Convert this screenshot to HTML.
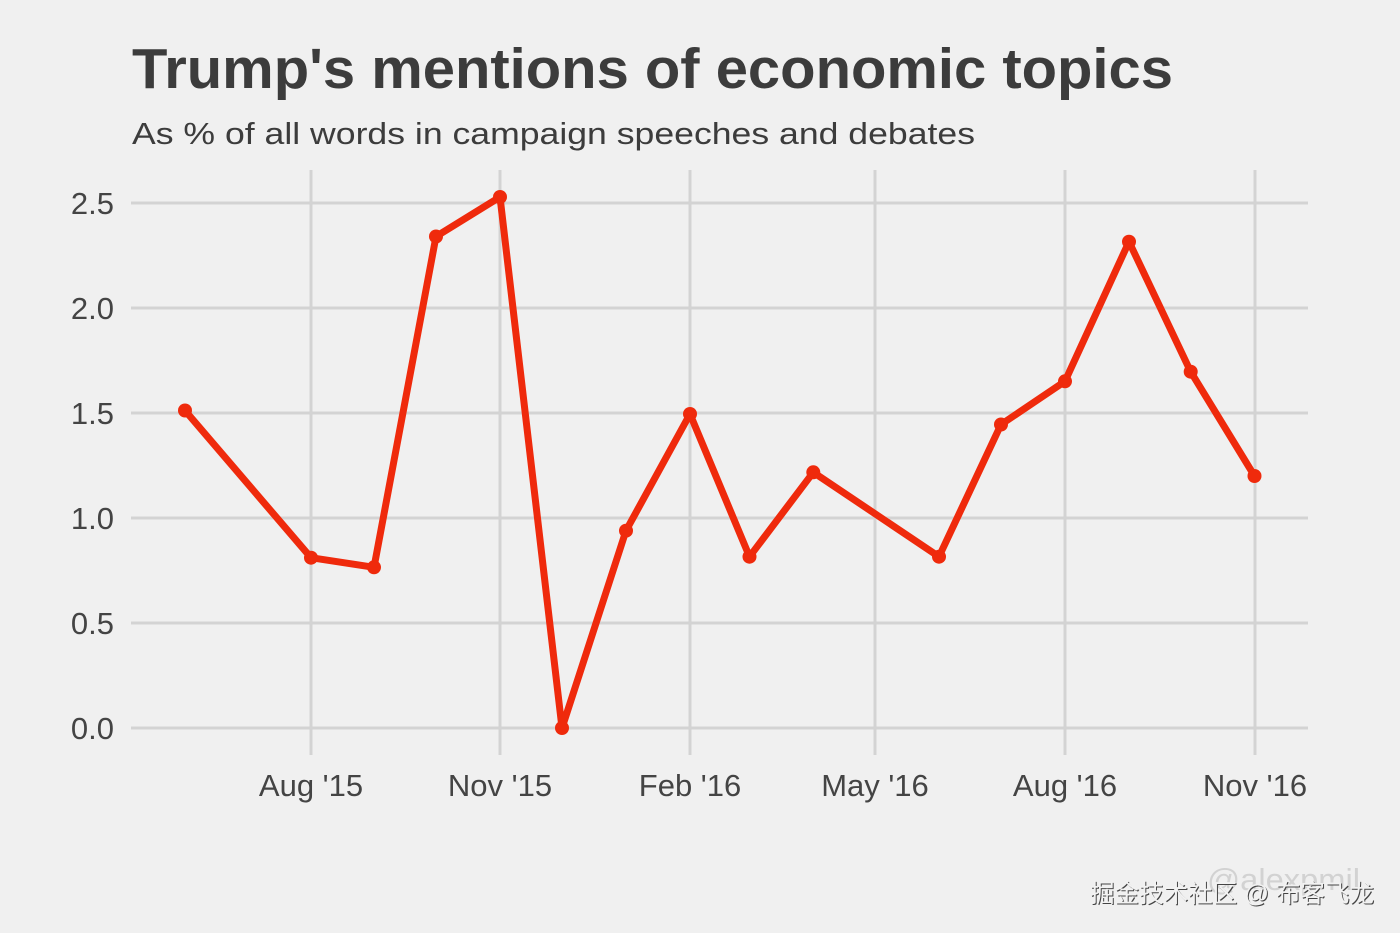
<!DOCTYPE html>
<html>
<head>
<meta charset="utf-8">
<style>
  html, body { margin: 0; padding: 0; background: #f0f0f0; }
  body { width: 1400px; height: 933px; overflow: hidden; }
  svg { display: block; }
  text { font-family: "Liberation Sans", Arial, sans-serif; }
</style>
</head>
<body>
<svg width="1400" height="933" viewBox="0 0 1400 933" xmlns="http://www.w3.org/2000/svg">
  <rect x="0" y="0" width="1400" height="933" fill="#f0f0f0"/>

  <!-- Title -->
  <text x="132" y="88" font-size="57" font-weight="bold" fill="#3c3c3c" textLength="1041" lengthAdjust="spacingAndGlyphs">Trump's mentions of economic topics</text>
  <text x="132" y="144" font-size="31" fill="#3c3c3c" textLength="843" lengthAdjust="spacingAndGlyphs">As % of all words in campaign speeches and debates</text>

  <!-- horizontal grid -->
  <g stroke="#d3d3d3" stroke-width="3">
    <line x1="131" y1="203" x2="1308" y2="203"/>
    <line x1="131" y1="308" x2="1308" y2="308"/>
    <line x1="131" y1="413" x2="1308" y2="413"/>
    <line x1="131" y1="518" x2="1308" y2="518"/>
    <line x1="131" y1="623" x2="1308" y2="623"/>
    <line x1="131" y1="728" x2="1308" y2="728"/>
  </g>
  <!-- vertical grid -->
  <g stroke="#d3d3d3" stroke-width="3">
    <line x1="311" y1="170" x2="311" y2="755"/>
    <line x1="500" y1="170" x2="500" y2="755"/>
    <line x1="690" y1="170" x2="690" y2="755"/>
    <line x1="875" y1="170" x2="875" y2="755"/>
    <line x1="1065" y1="170" x2="1065" y2="755"/>
    <line x1="1255" y1="170" x2="1255" y2="755"/>
  </g>

  <!-- y tick labels -->
  <g font-size="31" fill="#444" text-anchor="end">
    <text x="114" y="214">2.5</text>
    <text x="114" y="319">2.0</text>
    <text x="114" y="424">1.5</text>
    <text x="114" y="529">1.0</text>
    <text x="114" y="634">0.5</text>
    <text x="114" y="739">0.0</text>
  </g>

  <!-- x tick labels -->
  <g font-size="31" fill="#444" text-anchor="middle">
    <text x="311" y="796">Aug '15</text>
    <text x="500" y="796">Nov '15</text>
    <text x="690" y="796">Feb '16</text>
    <text x="875" y="796">May '16</text>
    <text x="1065" y="796">Aug '16</text>
    <text x="1255" y="796">Nov '16</text>
  </g>

  <!-- series -->
  <polyline fill="none" stroke="#ef2a0c" stroke-width="7" stroke-linejoin="round" stroke-linecap="round"
    points="185,410.5 311,557.7 374,567.3 436,236.5 500,197 562,728 626,530.7 690,414 749.5,556.7 813.3,472.3 939,556.7 1001,424.5 1065,381.3 1129,241.7 1190.7,371.7 1254.5,476"/>
  <g fill="#ef2a0c">
    <circle cx="185" cy="410.5" r="7"/>
    <circle cx="311" cy="557.7" r="7"/>
    <circle cx="374" cy="567.3" r="7"/>
    <circle cx="436" cy="236.5" r="7"/>
    <circle cx="500" cy="197" r="7"/>
    <circle cx="562" cy="728" r="7"/>
    <circle cx="626" cy="530.7" r="7"/>
    <circle cx="690" cy="414" r="7"/>
    <circle cx="749.5" cy="556.7" r="7"/>
    <circle cx="813.3" cy="472.3" r="7"/>
    <circle cx="939" cy="556.7" r="7"/>
    <circle cx="1001" cy="424.5" r="7"/>
    <circle cx="1065" cy="381.3" r="7"/>
    <circle cx="1129" cy="241.7" r="7"/>
    <circle cx="1190.7" cy="371.7" r="7"/>
    <circle cx="1254.5" cy="476" r="7"/>
  </g>

  <!-- watermarks -->
  <text x="1207" y="890" font-size="31" fill="#d2d2d2" textLength="153" lengthAdjust="spacingAndGlyphs">@alexpmil</text>
  <text x="1091" y="903" font-size="25" fill="#444" font-family="'Liberation Sans','Noto Sans CJK SC',sans-serif" textLength="284" lengthAdjust="spacingAndGlyphs">掘金技术社区 @ 布客飞龙</text>
  <text x="1090" y="902" font-size="25" fill="#f2f2f2" font-family="'Liberation Sans','Noto Sans CJK SC',sans-serif" textLength="284" lengthAdjust="spacingAndGlyphs">掘金技术社区 @ 布客飞龙</text>
</svg>
</body>
</html>
